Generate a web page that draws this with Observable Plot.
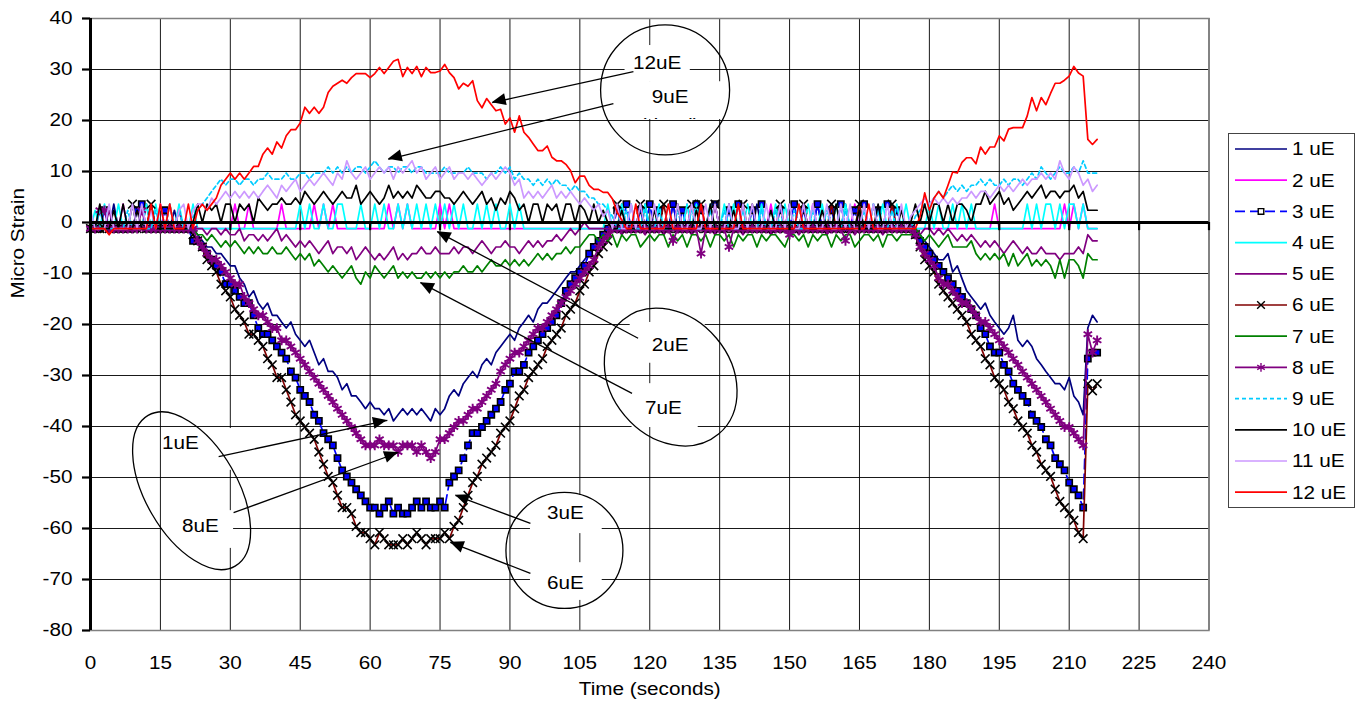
<!DOCTYPE html>
<html><head><meta charset="utf-8">
<script src="https://cdn.jsdelivr.net/npm/d3@7"></script>
<script src="https://cdn.jsdelivr.net/npm/@observablehq/plot@0.6"></script>
<style>html,body{margin:0;padding:0;background:#fff;} #chart{width:1367px;height:711px;}</style>
</head><body><div id="chart"></div><script>
// ---------------- data (micro strain, one reading per second, t = 0..216 s) ----------------
const xTicks = [0,15,30,45,60,75,90,105,120,135,150,165,180,195,210,225,240];
const yTicks = [-80,-70,-60,-50,-40,-30,-20,-10,0,10,20,30,40];
const seriesNames = ["1 uE","2 uE","3 uE","4 uE","5 uE","6 uE","7 uE","8 uE","9 uE","10 uE","11 uE","12 uE"];

const s1 = [-1.2,-1.2,-1.2,-1.2,-1.2,3.6,-1.2,-1.2,-1.2,-1.2,
-1.2,-1.2,3.6,-1.2,-1.2,-1.2,-1.2,-1.2,2.4,-1.2,
-1.2,-1.2,-1.2,-2.4,-3.6,-4.8,-4.8,-6.1,-6.1,-7.3,
-8.5,-8.5,-10.9,-12.1,-14.6,-13.4,-15.8,-17,-15.8,-18.2,
-18.2,-19.5,-20.7,-19.5,-21.9,-23.1,-24.3,-23.1,-25.5,-27.9,
-26.7,-29.2,-29.2,-30.4,-32.8,-31.6,-34,-34,-35.2,-36.5,
-35.2,-36.5,-36.5,-37.7,-36.5,-38.9,-37.7,-36.5,-37.7,-36.5,
-37.7,-36.5,-37.7,-38.9,-36.5,-37.7,-36.5,-34,-32.8,-34,
-31.6,-30.4,-29.2,-30.4,-27.9,-26.7,-27.9,-25.5,-24.3,-23.1,
-21.9,-23.1,-20.7,-19.5,-18.2,-19.5,-17,-15.8,-15.8,-14.6,
-13.4,-12.1,-10.9,-9.7,-9.7,-8.5,-7.3,-6.1,-4.8,-3.6,
-2.4,-1.2,-1.2,-1.2,3.6,-1.2,-1.2,-1.2,-1.2,3.6,
-1.2,-1.2,-1.2,-1.2,-1.2,3.6,-1.2,-1.2,-1.2,-1.2,
3.6,-1.2,-1.2,-1.2,-1.2,-1.2,-1.2,3.6,-1.2,-1.2,
-1.2,-1.2,-1.2,3.6,-1.2,-1.2,-1.2,-1.2,-1.2,-1.2,
3.6,-1.2,-1.2,-1.2,-1.2,-1.2,3.6,-1.2,-1.2,-1.2,
-1.2,-1.2,3.6,-1.2,-1.2,-1.2,-1.2,-1.2,3.6,-1.2,
-1.2,-1.2,-1.2,-1.2,-1.2,-1.2,-1.2,-1.2,-2.4,-3.6,
-4.8,-6.1,-7.3,-7.3,-6.1,-9.7,-8.5,-11,-13.4,-14.6,
-15.8,-17,-15.8,-18.2,-19.5,-20.7,-21.9,-20.7,-18.2,-23.1,
-24.3,-23.1,-24.3,-26.7,-27.9,-29.2,-30.4,-31.6,-31.6,-32.8,
-30.4,-34,-35.2,-37.7,-20.7,-18.2,-19.5];

const s2 = [-1.2,-1.2,-1.2,-1.2,-1.2,-1.2,-1.2,3.6,-1.2,-1.2,
-1.2,-1.2,-1.2,-1.2,-1.2,3.6,-1.2,-1.2,-1.2,-1.2,
-1.2,-1.2,-1.2,-1.2,-1.2,-1.2,-1.2,-1.2,-1.2,-1.2,
-1.2,3.6,-1.2,-1.2,3.6,-1.2,-1.2,-1.2,-1.2,-1.2,
-1.2,3.6,-1.2,-1.2,-1.2,-1.2,-1.2,-1.2,3.6,-1.2,
3.6,-1.2,3.6,-1.2,-1.2,-1.2,-1.2,-1.2,-1.2,-1.2,
-1.2,-1.2,-1.2,-1.2,3.6,-1.2,3.6,-1.2,3.6,-1.2,
-1.2,-1.2,-1.2,-1.2,-1.2,3.6,-1.2,3.6,-1.2,-1.2,
-1.2,-1.2,-1.2,-1.2,-1.2,-1.2,-1.2,-1.2,-1.2,-1.2,
-1.2,-1.2,-1.2,-1.2,-1.2,-1.2,-1.2,-1.2,-1.2,-1.2,
-1.2,-1.2,-1.2,-1.2,-1.2,-1.2,-1.2,-1.2,-1.2,-1.2,
-1.2,-1.2,-1.2,-1.2,-1.2,-1.2,3.6,-1.2,-1.2,-1.2,
-1.2,-1.2,-1.2,-1.2,-1.2,-1.2,-1.2,-1.2,3.6,-1.2,
-1.2,-1.2,-1.2,-1.2,3.6,-1.2,-1.2,-1.2,-1.2,-1.2,
-1.2,-1.2,-1.2,-1.2,-1.2,-1.2,3.6,-1.2,-1.2,-1.2,
-1.2,-1.2,-1.2,-1.2,-1.2,3.6,-1.2,-1.2,-1.2,-1.2,
-1.2,-1.2,-1.2,-1.2,3.6,-1.2,-1.2,-1.2,-1.2,-1.2,
-1.2,-1.2,3.6,-1.2,-1.2,-1.2,-1.2,-1.2,-1.2,-1.2,
-1.2,-1.2,-1.2,-1.2,-1.2,-1.2,-1.2,-1.2,-1.2,-1.2,
-1.2,-1.2,-1.2,-1.2,3.6,-1.2,-1.2,-1.2,-1.2,-1.2,
-1.2,-1.2,-1.2,-1.2,-1.2,-1.2,-1.2,-1.2,-1.2,3.6,
-1.2,3.6,-1.2,3.6,-1.2,-1.2,-1.2];

const s3 = [-1.2,-1.2,-1.2,2.4,-1.2,-1.2,-1.2,-1.2,-1.2,-1.2,
2.4,3.6,-1.2,-1.2,-1.2,-1.2,2.4,-1.2,-1.2,-1.2,
-1.2,-1.2,-3.6,-3.6,-4.8,-6.1,-7.3,-8.5,-9.7,-12.1,
-12.1,-13.4,-14.6,-15.8,-15.8,-18.2,-20.7,-21.9,-21.9,-23.1,
-24.3,-25.5,-26.7,-29.2,-30.4,-32.8,-34,-35.2,-37.7,-38.9,
-41.3,-42.5,-43.7,-46.2,-48.6,-49.8,-51,-52.3,-53.5,-54.7,
-55.9,-55.9,-57.1,-55.9,-54.7,-57.1,-55.9,-57.1,-57.1,-55.9,
-54.7,-55.9,-54.7,-55.9,-55.9,-54.7,-55.9,-51,-49.8,-48.6,
-46.2,-43.7,-41.3,-41.3,-40.1,-38.9,-37.7,-36.5,-35.2,-32.8,
-31.6,-29.2,-29.2,-27.9,-25.5,-24.3,-23.1,-21.9,-20.7,-19.5,
-18.2,-15.8,-13.4,-12.1,-10.9,-9.7,-8.5,-6.1,-4.8,-3.6,
-2.4,-1.2,-1.2,2.4,-1.2,3.6,-1.2,-1.2,2.4,-1.2,
3.6,-1.2,2.4,-1.2,-1.2,3.6,-1.2,2.4,-1.2,-1.2,
3.6,2.4,-1.2,-1.2,3.6,-1.2,-1.2,2.4,-1.2,3.6,
-1.2,-1.2,2.4,-1.2,3.6,-1.2,-1.2,-1.2,2.4,-1.2,
-1.2,3.6,-1.2,2.4,-1.2,-1.2,3.6,-1.2,-1.2,2.4,
-1.2,3.6,-1.2,-1.2,2.4,-1.2,3.6,-1.2,-1.2,2.4,
-1.2,3.6,-1.2,2.4,-1.2,-1.2,-1.2,-2.4,-3.6,-4.8,
-6.1,-7.3,-8.5,-9.7,-10.9,-12.1,-13.4,-14.6,-15.8,-17,
-18.2,-20.7,-21.9,-24.3,-25.5,-25.5,-27.9,-29.2,-31.6,-32.8,
-34,-35.2,-37.7,-38.9,-40.1,-42.5,-43.7,-46.2,-47.4,-48.6,
-51,-52.3,-53.5,-55.9,-26.7,-25.5,-25.5];

const s4 = [-1.2,2.4,-1.2,3.6,-1.2,-1.2,3.6,-1.2,-1.2,3.6,
-1.2,-1.2,3.6,-1.2,3.6,-1.2,-1.2,3.6,-1.2,3.6,
-1.2,-1.2,3.6,-1.2,-1.2,-1.2,-1.2,-1.2,-1.2,-1.2,
-1.2,-1.2,-1.2,-1.2,-1.2,-1.2,-1.2,-1.2,-1.2,-1.2,
-1.2,-1.2,-1.2,-1.2,-1.2,3.6,-1.2,3.6,-1.2,-1.2,
3.6,-1.2,-1.2,3.6,3.6,-1.2,-1.2,-1.2,3.6,-1.2,
-1.2,3.6,-1.2,3.6,-1.2,-1.2,3.6,-1.2,3.6,-1.2,
3.6,-1.2,3.6,-1.2,3.6,-1.2,3.6,-1.2,3.6,-1.2,
3.6,-1.2,-1.2,3.6,-1.2,3.6,-1.2,3.6,-1.2,-1.2,
3.6,-1.2,3.6,-1.2,-1.2,-1.2,-1.2,-1.2,-1.2,-1.2,
-1.2,-1.2,-1.2,-1.2,-1.2,-1.2,-1.2,-1.2,-1.2,-1.2,
-1.2,3.6,-1.2,-1.2,3.6,-1.2,3.6,-1.2,-1.2,3.6,
-1.2,-1.2,3.6,-1.2,3.6,-1.2,-1.2,-1.2,3.6,-1.2,
3.6,-1.2,-1.2,3.6,-1.2,-1.2,3.6,-1.2,3.6,-1.2,
-1.2,3.6,-1.2,-1.2,3.6,-1.2,-1.2,3.6,-1.2,3.6,
-1.2,-1.2,3.6,-1.2,3.6,-1.2,-1.2,3.6,-1.2,-1.2,
3.6,-1.2,3.6,-1.2,-1.2,3.6,-1.2,-1.2,3.6,-1.2,
3.6,-1.2,-1.2,3.6,-1.2,3.6,-1.2,-1.2,-1.2,-1.2,
3.6,-1.2,3.6,-1.2,-1.2,3.6,-1.2,3.6,-1.2,3.6,
-1.2,-1.2,-1.2,-1.2,-1.2,-1.2,-1.2,-1.2,-1.2,-1.2,
-1.2,3.6,-1.2,3.6,-1.2,3.6,3.6,-1.2,3.6,-1.2,
3.6,3.6,-1.2,3.6,-1.2,-1.2,-1.2];

const s5 = [-1.2,-1.2,-1.2,-1.2,2.4,-1.2,-1.2,-1.2,-1.2,-1.2,
-1.2,-1.2,-1.2,-1.2,-1.2,-1.2,-1.2,-1.2,-1.2,2.4,
-1.2,-1.2,-1.2,-1.2,-1.2,-2.4,-1.2,-1.2,-2.4,-1.2,
-2.4,-2.4,-1.2,-3.6,-2.4,-2.4,-3.6,-2.4,-3.6,-2.4,
-1.2,-3.6,-2.4,-3.6,-4.8,-3.6,-4.8,-3.6,-4.8,-6.1,
-4.8,-3.6,-6.1,-4.8,-4.8,-6.1,-4.8,-7.3,-6.1,-4.8,
-6.1,-7.3,-6.1,-7.3,-6.1,-4.8,-7.3,-6.1,-7.3,-6.1,
-6.1,-4.8,-6.1,-6.1,-4.8,-6.1,-6.1,-6.1,-4.8,-6.1,
-4.8,-4.8,-6.1,-4.8,-3.6,-4.8,-6.1,-4.8,-4.8,-3.6,
-4.8,-4.8,-6.1,-4.8,-3.6,-4.8,-3.6,-4.8,-3.6,-3.6,
-2.4,-3.6,-2.4,-1.2,-2.4,-1.2,0,-1.2,-1.2,-1.2,
-1.2,-1.2,-1.2,-1.2,-2.4,-1.2,-1.2,-1.2,-1.2,-2.4,
-1.2,-1.2,-1.2,-2.4,-1.2,-1.2,-1.2,-1.2,-1.2,-2.4,
-1.2,-1.2,-1.2,-1.2,-2.4,-1.2,-1.2,-1.2,-1.2,-1.2,
-2.4,-1.2,-1.2,-1.2,-1.2,-1.2,-2.4,-1.2,-1.2,-1.2,
-1.2,-1.2,-2.4,-1.2,-1.2,-1.2,-1.2,-1.2,-2.4,-1.2,
-1.2,-1.2,-1.2,-1.2,-2.4,-1.2,-1.2,-1.2,-1.2,-1.2,
-2.4,-1.2,-1.2,-1.2,-1.2,-1.2,-1.2,-1.2,-2.4,-1.2,
-1.2,-2.4,-1.2,-2.4,-1.2,-2.4,-3.6,-2.4,-3.6,-2.4,
-3.6,-4.8,-3.6,-4.8,-3.6,-4.8,-6.1,-4.8,-3.6,-4.8,
-6.1,-4.8,-6.1,-6.1,-4.8,-6.1,-6.1,-6.1,-7.3,-6.1,
-6.1,-6.1,-4.8,-6.1,-2.4,-3.6,-3.6];

const s6 = [-1.2,-1.2,-1.2,-1.2,-1.2,-1.2,-1.2,-1.2,-1.2,3.6,
-1.2,-1.2,-1.2,3.6,-1.2,-1.2,-1.2,-1.2,-1.2,-1.2,
-1.2,-1.2,-2.4,-3.6,-4.8,-7.3,-8.5,-9.7,-12.1,-13.4,
-14.6,-17,-18.2,-19.5,-21.9,-21.9,-23.1,-24.3,-26.7,-27.9,
-30.4,-30.4,-32.8,-35.2,-37.7,-38.9,-40.1,-41.3,-42.5,-45,
-47.4,-49.8,-51,-53.5,-55.9,-55.9,-57.1,-59.6,-60.8,-60.8,
-62,-63.2,-60.8,-62,-63.2,-63.2,-63.2,-62,-63.2,-62,
-60.8,-62,-63.2,-62,-62,-62,-60.8,-62,-59.6,-58.4,
-55.9,-53.5,-51,-49.8,-47.4,-46.2,-45,-43.7,-41.3,-40.1,
-38.9,-36.5,-34,-32.8,-30.4,-29.2,-27.9,-26.7,-24.3,-23.1,
-21.9,-20.7,-18.2,-17,-15.8,-13.4,-12.1,-9.7,-8.5,-6.1,
-4.8,-3.6,-1.2,3.6,-1.2,-1.2,-1.2,-1.2,3.6,-1.2,
-1.2,-1.2,-1.2,3.6,-1.2,-1.2,-1.2,-1.2,-1.2,3.6,
-1.2,3.6,-1.2,-1.2,3.6,-1.2,-1.2,-1.2,-1.2,-1.2,
3.6,-1.2,-1.2,-1.2,-1.2,-1.2,-1.2,-1.2,3.6,-1.2,
-1.2,-1.2,-1.2,3.6,-1.2,-1.2,-1.2,-1.2,-1.2,3.6,
-1.2,-1.2,-1.2,-1.2,-1.2,3.6,-1.2,-1.2,-1.2,-1.2,
-1.2,-1.2,3.6,-1.2,-1.2,-1.2,-1.2,-2.4,-4.8,-7.3,
-8.5,-9.7,-12.1,-13.4,-14.6,-15.8,-17,-18.2,-19.5,-21.9,
-23.1,-24.3,-26.7,-27.9,-30.4,-31.6,-32.8,-35.2,-36.5,-38.9,
-40.1,-41.3,-43.7,-45,-47.4,-48.6,-49.8,-52.3,-54.7,-55.9,
-57.1,-58.4,-60.8,-62,-31.6,-33,-31.6];

const s7 = [-1.2,-1.2,-1.2,-1.2,-1.2,-1.2,-1.2,-1.2,-1.2,-1.2,
-1.2,-1.2,-1.2,-1.2,-1.2,-1.2,-1.2,3.6,-1.2,-1.2,
-1.2,-1.2,-1.2,-2.4,-2.4,-3.6,-2.4,-3.6,-4.8,-3.6,
-4.8,-3.6,-4.8,-6.1,-4.8,-6.1,-4.8,-6.1,-6.1,-4.8,
-6.1,-6.1,-4.8,-6.1,-7.3,-6.1,-7.3,-6.1,-8.5,-7.3,
-8.5,-9.7,-8.5,-9.7,-10.9,-9.7,-8.5,-10.9,-12.1,-9.7,
-10.9,-8.5,-9.7,-10.9,-9.7,-8.5,-10.9,-9.7,-10.9,-9.7,
-10.9,-10.9,-9.7,-10.9,-9.7,-10.9,-9.7,-10.9,-9.7,-9.7,
-8.5,-9.7,-9.7,-8.5,-9.7,-8.5,-7.3,-8.5,-8.5,-7.3,
-8.5,-7.3,-8.5,-7.3,-8.5,-7.3,-6.1,-7.3,-6.1,-7.3,
-6.1,-6.1,-4.8,-6.1,-4.8,-4.8,-3.6,-2.4,-2.4,-3.6,
-2.4,-3.6,-2.4,-4.8,-2.4,-3.6,-2.4,-2.4,-4.8,-3.6,
-2.4,-3.6,-2.4,-2.4,-4.8,-2.4,-3.6,-2.4,-4.8,-2.4,
-2.4,-3.6,-2.4,-4.8,-2.4,-2.4,-3.6,-2.4,-4.8,-2.4,
-3.6,-2.4,-2.4,-4.8,-2.4,-3.6,-2.4,-2.4,-3.6,-4.8,
-2.4,-2.4,-3.6,-2.4,-4.8,-2.4,-3.6,-2.4,-2.4,-4.8,
-2.4,-3.6,-2.4,-2.4,-4.8,-3.6,-2.4,-2.4,-3.6,-2.4,
-4.8,-2.4,-2.4,-3.6,-2.4,-2.4,-2.4,-1.2,-2.4,-3.6,
-2.4,-3.6,-4.8,-3.6,-2.4,-4.8,-4.8,-4.8,-4.8,-3.6,
-6.1,-7.3,-6.1,-7.3,-6.1,-7.3,-6.1,-8.5,-6.1,-8.5,
-7.3,-6.1,-8.5,-7.3,-8.5,-7.3,-8.5,-10.9,-7.3,-10.9,
-7.3,-7.3,-8.5,-10.9,-6.1,-7.3,-7.3];

const s8 = [-1.2,-1.2,2.4,2.4,-1.2,-1.2,-1.2,-1.2,-1.2,-1.2,
-1.2,2.4,-1.2,-1.2,-1.2,-1.2,-1.2,-1.2,-1.2,-1.2,
-1.2,-1.2,-1.2,-3.6,-4.8,-6.1,-7.3,-7.3,-8.5,-9.7,
-10.9,-12.1,-12.1,-14.6,-15.8,-17,-18.2,-18.2,-19.5,-20.7,
-20.7,-23.1,-23.1,-24.3,-25.5,-26.7,-27.9,-29.2,-30.4,-31.6,
-32.8,-34,-35.2,-36.5,-37.7,-38.9,-40.1,-41.3,-42.5,-43.7,
-43.7,-43.7,-42.5,-43.7,-43.7,-43.7,-45,-43.7,-43.7,-43.7,
-45,-43.7,-45,-46.2,-45,-42.5,-42.5,-41.3,-40.1,-38.9,
-38.9,-37.7,-36.5,-36.5,-35.2,-34,-32.8,-31.6,-29.2,-27.9,
-26.7,-25.5,-25.5,-24.3,-23.1,-21.9,-20.7,-20.7,-19.5,-18.2,
-17,-15.8,-14.6,-13.4,-12.1,-10.9,-9.7,-8.5,-7.3,-4.8,
-3.6,-2.4,-1.2,-1.2,-1.2,-1.2,-1.2,-1.2,-1.2,-1.2,
-1.2,-1.2,-1.2,-1.2,-1.2,-3.6,-1.2,-1.2,-1.2,-1.2,
-1.2,-6.1,-1.2,-1.2,-1.2,-1.2,-1.2,-4.8,-1.2,-1.2,
-1.2,-1.2,-1.2,-1.2,-1.2,-1.2,-1.2,-1.2,-1.2,-1.2,
-2.4,-1.2,-1.2,-1.2,-1.2,-1.2,-1.2,-1.2,-1.2,-1.2,
-1.2,-1.2,-3.6,-1.2,-1.2,-1.2,-1.2,-1.2,-1.2,-1.2,
-1.2,-1.2,-1.2,-1.2,-1.2,-1.2,-1.2,-2.4,-4.8,-6.1,
-7.3,-8.5,-10.9,-12.1,-12.1,-13.4,-14.6,-15.8,-15.8,-17,
-18.2,-19.5,-19.5,-20.7,-21.9,-23.1,-24.3,-25.5,-26.7,-27.9,
-29.2,-30.4,-31.6,-32.8,-34,-35.2,-36.5,-37.7,-38.9,-40.1,
-40.1,-41.3,-42.5,-43.7,-21.9,-25.5,-23.1];

const s9 = [-1.2,-1.2,2.4,-1.2,-1.2,-1.2,-1.2,-1.2,2.4,-1.2,
-1.2,-1.2,-1.2,-1.2,2.4,-1.2,-1.2,-1.2,-1.2,2.4,
-1.2,-1.2,1.2,2.4,3.6,4.8,6.1,7.3,8.5,7.3,
8.5,8.5,7.3,8.5,8.5,7.3,8.5,8.5,9.7,8.5,
8.5,8.5,9.7,8.5,8.5,9.7,9.7,8.5,9.7,9.7,
9.7,10.9,9.7,10.9,9.7,10.9,9.7,10.9,10.9,9.7,
10.9,12.1,10.9,9.7,10.9,10.9,9.7,10.9,10.9,9.7,
10.9,10.9,9.7,9.7,9.7,9.7,10.9,9.7,9.7,9.7,
9.7,10.9,9.7,9.7,9.7,8.5,9.7,9.7,10.9,9.7,
10.9,8.5,9.7,8.5,8.5,7.3,8.5,7.3,8.5,7.3,
8.5,7.3,7.3,6.1,7.3,6.1,6.1,4.8,4.8,3.6,
3.6,2.4,1.2,-1.2,-1.2,2.4,-1.2,-1.2,-1.2,2.4,
-1.2,-1.2,2.4,-1.2,-1.2,-1.2,2.4,-1.2,-1.2,2.4,
-1.2,-1.2,-1.2,2.4,-1.2,-1.2,2.4,-1.2,-1.2,-1.2,
2.4,-1.2,-1.2,-1.2,2.4,-1.2,-1.2,2.4,-1.2,-1.2,
-1.2,2.4,-1.2,-1.2,-1.2,2.4,-1.2,-1.2,2.4,-1.2,
-1.2,-1.2,2.4,-1.2,-1.2,-1.2,2.4,-1.2,-1.2,2.4,
-1.2,-1.2,2.4,-1.2,-1.2,-1.2,-1.2,1.2,2.4,3.6,
3.6,4.8,6.1,4.8,6.1,7.3,6.1,7.3,6.1,7.3,
7.3,8.5,7.3,8.5,7.3,7.3,8.5,7.3,8.5,8.5,
7.3,8.5,9.7,8.5,10.9,9.7,8.5,9.7,10.9,9.7,
9.7,10.9,9.7,12.1,9.7,9.7,9.7];

const s10 = [-1.2,-1.2,3.6,-1.2,-1.2,2.4,-1.2,3.6,-1.2,-1.2,
2.4,-1.2,-1.2,3.6,-1.2,-1.2,-1.2,-1.2,-1.2,-1.2,
-1.2,-1.2,0,3.6,0,3.6,2.4,3.6,0,3.6,
3.6,0,3.6,2.4,3.6,0,4.8,3.6,2.4,3.6,
3.6,4.8,3.6,3.6,4.8,3.6,6.1,4.8,3.6,4.8,
6.1,4.8,3.6,4.8,6.1,4.8,4.8,7.3,3.6,4.8,
6.1,4.8,3.6,4.8,7.3,4.8,6.1,4.8,6.1,4.8,
7.3,6.1,4.8,4.8,6.1,6.1,4.8,4.8,3.6,4.8,
6.1,4.8,3.6,4.8,6.1,3.6,4.8,2.4,4.8,3.6,
6.1,4.8,2.4,3.6,0,3.6,3.6,0,3.6,2.4,
3.6,0,3.6,3.6,0,3.6,2.4,0,3.6,0,
2.4,0,-1.2,-1.2,2.4,-1.2,-1.2,-1.2,3.6,-1.2,
-1.2,2.4,-1.2,-1.2,-1.2,-1.2,3.6,-1.2,-1.2,-1.2,
2.4,-1.2,-1.2,3.6,-1.2,-1.2,-1.2,-1.2,2.4,-1.2,
-1.2,-1.2,3.6,-1.2,-1.2,-1.2,2.4,-1.2,-1.2,-1.2,
-1.2,-1.2,-1.2,3.6,-1.2,-1.2,-1.2,2.4,-1.2,-1.2,
3.6,-1.2,-1.2,-1.2,-1.2,2.4,-1.2,-1.2,-1.2,3.6,
-1.2,-1.2,-1.2,-1.2,2.4,-1.2,0,3.6,0,3.6,
0,3.6,3.6,0,3.6,0,3.6,3.6,2.4,0,
3.6,3.6,6.1,3.6,4.8,6.1,3.6,4.8,2.4,3.6,
4.8,6.1,4.8,6.1,7.3,4.8,6.1,6.1,4.8,6.1,
6.1,7.3,4.8,6.1,2.4,2.4,2.4];

const s11 = [2.4,-1.2,-1.2,-1.2,3.6,-1.2,-1.2,-1.2,-1.2,3.6,
-1.2,3.6,-1.2,2.4,-1.2,3.6,-1.2,3.6,-1.2,2.4,
3.6,-1.2,2.4,3.6,3.6,2.4,4.8,3.6,4.8,6.1,
4.8,6.1,4.8,6.1,4.8,6.1,4.8,6.1,7.3,6.1,
4.8,7.3,6.1,7.3,8.5,6.1,7.3,8.5,7.3,8.5,
9.7,8.5,7.3,9.7,8.5,12.1,9.7,8.5,9.7,10.9,
8.5,9.7,10.9,9.7,10.9,8.5,10.9,9.7,10.9,12.1,
9.7,10.9,8.5,9.7,10.9,8.5,9.7,10.9,8.5,9.7,
9.7,8.5,9.7,8.5,7.3,8.5,9.7,8.5,9.7,10.9,
9.7,7.3,8.5,4.8,6.1,4.8,6.1,4.8,6.1,7.3,
4.8,6.1,4.8,6.1,4.8,3.6,4.8,3.6,2.4,3.6,
1.2,2.4,-1.2,3.6,-1.2,-1.2,3.6,-1.2,3.6,-1.2,
-1.2,3.6,-1.2,-1.2,3.6,-1.2,3.6,-1.2,-1.2,3.6,
-1.2,-1.2,3.6,-1.2,3.6,-1.2,-1.2,3.6,-1.2,-1.2,
3.6,-1.2,3.6,-1.2,-1.2,3.6,-1.2,-1.2,3.6,-1.2,
3.6,-1.2,-1.2,3.6,-1.2,3.6,-1.2,-1.2,3.6,-1.2,
-1.2,3.6,-1.2,3.6,-1.2,-1.2,3.6,-1.2,3.6,-1.2,
-1.2,3.6,-1.2,-1.2,3.6,-1.2,1.2,2.4,3.6,4.8,
3.6,4.8,3.6,4.8,3.6,4.8,3.6,4.8,4.8,6.1,
4.8,6.1,6.1,4.8,6.1,7.3,6.1,7.3,6.1,7.3,
8.5,7.3,8.5,8.5,9.7,8.5,9.7,8.5,12.1,9.7,
8.5,10.9,9.7,7.3,8.5,6.1,7.3];

const s12 = [-1.2,-1.2,-1.2,-1.2,-2.4,-1.2,-1.2,-1.2,-1.2,-1.2,
-1.2,-1.2,-1.2,3.6,-1.2,3.6,-1.2,3.6,-1.2,-1.2,
-1.2,3.6,-1.2,2.4,3.6,2.4,3.6,4.8,7.3,8.5,
9.7,8.5,9.7,8.5,9.7,11,11,13.4,14.6,13.4,
15.8,14.6,17,18.2,18.2,19.5,22.6,21.4,22.6,21.4,
22.6,25.5,26.7,27.3,27.9,27.3,28.4,29.2,29.2,29.2,
28.4,29.2,30.4,29.2,30.4,31.6,32,28.6,30.4,29.2,
30.6,28.6,30.4,29.4,29.4,29.7,31,29.4,28.4,26.2,
27.3,26.7,27.8,23.9,22.5,24.3,23.1,21.9,22.2,19.3,
20.5,17.7,20.9,17.7,16.7,15.4,14.1,14.1,15,12.8,
12.1,12.1,11.4,10.2,7.8,9.1,9.1,7.3,6.5,6.5,
5.9,5.9,4.6,2,0.5,-1.2,-1.2,3.6,-1.2,-1.2,
-1.2,-1.2,-1.2,-1.2,3.6,-1.2,-1.2,-1.2,-1.2,-1.2,
-1.2,3.6,-1.2,-1.2,-1.2,-1.2,-1.2,-1.2,-1.2,3.6,
-1.2,-1.2,-1.2,-1.2,-1.2,-1.2,-1.2,-1.2,-1.2,-1.2,
-1.2,-1.2,3.6,-1.2,-1.2,-1.2,-1.2,-1.2,-1.2,-1.2,
-1.2,-1.2,-1.2,-1.2,-1.2,-1.2,-1.2,3.6,-1.2,-1.2,
-1.2,-1.2,-1.2,-1.2,-1.2,-1.2,-1.2,-1.2,1.2,5.8,
2.4,4.8,6.1,4.8,7.3,9.9,9.7,11.8,12.7,12.7,
11.5,14.8,13.4,14.8,14.8,17,16,18.3,18.6,18.6,
18.6,20.9,24.5,21.9,24.5,23.1,25.3,27.3,27.3,27.9,
28.7,30.6,29.3,28.7,16.3,15.3,16.3];

// annotations (data coordinates)
const noteLabels = [
  {text:"12uE", t:121.6, v:31.2}, {text:"9uE", t:124.4, v:24.5},
  {text:"2uE", t:124.4, v:-24.1}, {text:"7uE", t:122.9, v:-36.5},
  {text:"1uE", t:19.3, v:-43.3},  {text:"8uE", t:23.6, v:-59.6},
  {text:"3uE", t:101.9, v:-57.1}, {text:"6uE", t:101.9, v:-70.8}
];
const noteBoxes = [
  {t1:114.7,t2:128.7,v1:34.7,v2:27.5}, {t1:116.2,t2:136.2,v1:27.6,v2:20.2},
  {t1:115.8,t2:131.9,v1:-19.6,v2:-27.6}, {t1:116.2,t2:130.4,v1:-31.6,v2:-40.2},
  {t1:15.4,t2:33.2,v1:-40.4,v2:-48.6}, {t1:15.4,t2:30.7,v1:-56.5,v2:-63.9},
  {t1:94.4,t2:109.8,v1:-53.5,v2:-61}, {t1:94.4,t2:109.8,v1:-66.7,v2:-74.1}
];
const noteArrows = [
  {t1:116.5,v1:29.6,t2:86.2,v2:23.5}, {t1:112.2,v1:23.3,t2:63.9,v2:12.4},
  {t1:117.5,v1:-22.7,t2:74.4,v2:-1.8}, {t1:116.2,v1:-33.5,t2:70.8,v2:-11.8},
  {t1:27.5,v1:-45.9,t2:63.7,v2:-38.8}, {t1:30.7,v1:-56.9,t2:66.1,v2:-45.1},
  {t1:94.4,v1:-59,t2:78.3,v2:-53.5}, {t1:94.4,v1:-68.8,t2:77.2,v2:-62.7}
];
const noteEllipses = [
  {t:123.4,v:25.9,rx:64.5,ry:65,rot:0}, {t:124.6,v:-30.4,rx:74.5,ry:60,rot:50},
  {t:21.8,v:-52.7,rx:87,ry:46,rot:60}, {t:101.8,v:-64.4,rx:58.5,ry:58,rot:0}
];
const hiddenNote = {text:"(dead)", t:124.4, v:17.9, box:1};

// ---------------- styles ----------------
const FONT = "'Liberation Sans', Arial, sans-serif";
const styles = [
  {color:"#000080"},
  {color:"#FF00FF"},
  {color:"#0000FF", dash:"10,5", symbol:"square", r:3.5, fill:"#0000FF", mstroke:"#000", mw:1.6},
  {color:"#00FFFF"},
  {color:"#800080"},
  {color:"#800000", symbol:"times", r:4, fill:"none", mstroke:"#000", mw:1.6},
  {color:"#008000"},
  {color:"#800080", symbol:"asterisk", r:4.6, fill:"none", mstroke:"#800080", mw:1.9},
  {color:"#00CCFF", dash:"4,3"},
  {color:"#000000"},
  {color:"#CC99FF"},
  {color:"#FF0000"}
];
const valuesList = [s1,s2,s3,s4,s5,s6,s7,s8,s9,s10,s11,s12];
const time = d3.range(0, 217); // sample times, one per second

const marks = [
  Plot.ruleX(xTicks, {stroke:"#000", strokeWidth:1, strokeOpacity:0.9}),
  Plot.ruleY(yTicks, {stroke:"#000", strokeWidth:1, strokeOpacity:0.9}),
  Plot.frame({stroke:"#808080", strokeWidth:1.5}),
  Plot.axisY(yTicks, {anchor:"left", tickSize:8, tickPadding:10, strokeWidth:2.2, fontSize:18,
    tickFormat:d => String(d), label:null}),
  Plot.axisX(xTicks, {anchor:"bottom", tickSize:0, tickPadding:26, fontSize:18, label:null}),
];
valuesList.forEach((vals, i) => {
  const st = styles[i];
  const rows = time.map((t, j) => ({t, v: vals[j]}));
  marks.push(Plot.line(rows, {x:"t", y:"v", stroke:st.color, strokeWidth:1.7,
    strokeDasharray: st.dash || null, strokeLinejoin:"round"}));
  if (st.symbol) marks.push(Plot.dot(rows, {x:"t", y:"v", symbol:st.symbol, r:st.r,
    fill:st.fill, stroke:st.mstroke, strokeWidth:st.mw}));
});
marks.push(
  Plot.ruleX([0], {stroke:"#000", strokeWidth:3}),
  Plot.ruleY([0], {stroke:"#000", strokeWidth:3}),
  Plot.ruleX(xTicks, {y1:0, y2:-1.6, stroke:"#000", strokeWidth:2.2}),
  Plot.rect(noteBoxes, {x1:"t1", x2:"t2", y1:"v1", y2:"v2", fill:"white"}),
  Plot.text(noteLabels, {x:"t", y:"v", text:"text", fontSize:18, fill:"#000"}),
  Plot.link(noteArrows, {x1:"t1", y1:"v1", x2:"t2", y2:"v2", stroke:"#000", strokeWidth:1.3}),
  Plot.text(["Time (seconds)"], {frameAnchor:"bottom", dy:64, fontSize:18, fill:"#000"}),
  Plot.text(["Micro Strain"], {frameAnchor:"left", dx:-72, dy:-26, rotate:-90, fontSize:18, fill:"#000"})
);

const plot = Plot.plot({
  width:1367, height:711,
  marginLeft:90, marginRight:158.5, marginTop:18, marginBottom:81,
  x:{domain:[0,240], axis:null},
  y:{domain:[-80,40], axis:null},
  style:{background:"white", color:"black", fontFamily:FONT},
  marks
});
document.getElementById("chart").appendChild(plot);

// ---------------- overlays through the plot's scales ----------------
const sx = plot.scale("x"), sy = plot.scale("y");
const svg = d3.select(plot);
const over = svg.append("g");
noteEllipses.forEach(e => {
  const cx = sx.apply(e.t), cy = sy.apply(e.v);
  over.append("ellipse").attr("cx", cx).attr("cy", cy).attr("rx", e.rx).attr("ry", e.ry)
    .attr("transform", `rotate(${e.rot} ${cx} ${cy})`)
    .attr("fill", "none").attr("stroke", "#000").attr("stroke-width", 1.3);
});
noteArrows.forEach(a => {
  const x1 = sx.apply(a.t1), y1 = sy.apply(a.v1), x2 = sx.apply(a.t2), y2 = sy.apply(a.v2);
  const L = Math.hypot(x2 - x1, y2 - y1), ux = (x2 - x1) / L, uy = (y2 - y1) / L;
  const hl = 14, hw = 6, bx = x2 - ux * hl, by = y2 - uy * hl;
  over.append("path")
    .attr("d", `M${x2},${y2}L${bx - uy * hw},${by + ux * hw}L${bx + uy * hw},${by - ux * hw}Z`)
    .attr("fill", "#000");
});
{
  const b = noteBoxes[hiddenNote.box];
  const defs = svg.append("defs");
  defs.append("clipPath").attr("id", "deadclip").append("rect")
    .attr("x", sx.apply(b.t1)).attr("y", sy.apply(b.v1))
    .attr("width", sx.apply(b.t2) - sx.apply(b.t1)).attr("height", sy.apply(b.v2) - sy.apply(b.v1));
  over.append("g").attr("clip-path", "url(#deadclip)").append("text")
    .attr("x", sx.apply(hiddenNote.t)).attr("y", sy.apply(hiddenNote.v))
    .attr("text-anchor", "middle").attr("font-size", 18).attr("font-family", FONT)
    .text(hiddenNote.text);
}

// legend
const lg = svg.append("g").attr("font-family", FONT).attr("font-size", 18).attr("text-anchor", "start");
lg.append("rect").attr("x", 1228.5).attr("y", 133.5).attr("width", 126).attr("height", 374)
  .attr("fill", "white").attr("stroke", "#444").attr("stroke-width", 1);
const symMap = {square:d3.symbolSquare, times:d3.symbolTimes, asterisk:d3.symbolAsterisk};
seriesNames.forEach((name, i) => {
  const st = styles[i], y = 149 + i * 31.2;
  lg.append("line").attr("x1", 1235).attr("x2", 1287).attr("y1", y).attr("y2", y)
    .attr("stroke", st.color).attr("stroke-width", 1.7).attr("stroke-dasharray", st.dash || null);
  if (st.symbol) {
    lg.append("path").attr("transform", `translate(1261,${y})`)
      .attr("d", d3.symbol(symMap[st.symbol], Math.PI * st.r * st.r * 0.8)())
      .attr("fill", st.symbol === "square" ? "#fff" : st.fill).attr("stroke", st.mstroke).attr("stroke-width", 1.4);
  }
  lg.append("text").attr("x", 1292).attr("y", y).attr("dy", "0.35em").attr("text-anchor", "start").text(name);
});

// horizontal stretch of all text to match the reference's wide lettering
plot.querySelectorAll("text").forEach(el => {
  if (el.querySelector("tspan")) return;
  const w = el.getComputedTextLength();
  if (w > 0) { el.setAttribute("textLength", (w * 1.15).toFixed(1)); el.setAttribute("lengthAdjust", "spacingAndGlyphs"); }
});
</script></body></html>
